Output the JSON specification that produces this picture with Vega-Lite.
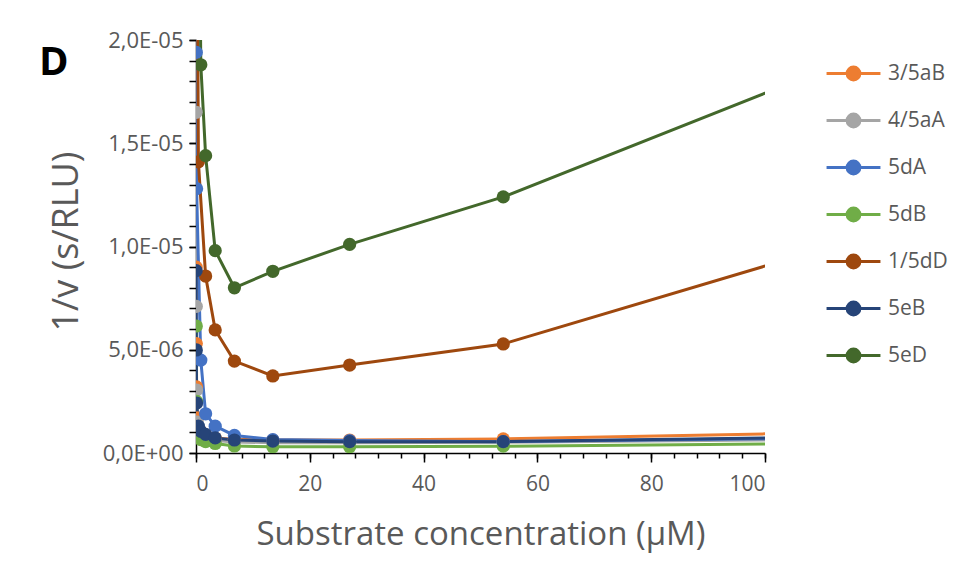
{
  "$schema": "https://vega.github.io/schema/vega-lite/v6.json",
  "width": 569,
  "height": 413,
  "autosize": {"type": "none"},
  "padding": {"left": 196, "top": 40, "right": 196, "bottom": 130},
  "background": "white",
  "config": {"view": {"stroke": null}, "font": "Open Sans"},
  "title": {"text": "D", "fontSize": 40, "fontWeight": "bold", "font": "Open Sans", "color": "#000000", "anchor": "start", "frame": "group", "dx": -157, "dy": 86, "offset": 0, "baseline": "alphabetic"},
  "data": {"values": [
    {"s": "3/5aB", "x": 0.0264, "y": 9.0e-6},
    {"s": "3/5aB", "x": 0.0527, "y": 5.3e-6},
    {"s": "3/5aB", "x": 0.105, "y": 3.2e-6},
    {"s": "3/5aB", "x": 0.211, "y": 1.7e-6},
    {"s": "3/5aB", "x": 0.844, "y": 1.05e-6},
    {"s": "3/5aB", "x": 1.69, "y": 8.8e-7},
    {"s": "3/5aB", "x": 3.375, "y": 7.2e-7},
    {"s": "3/5aB", "x": 6.75, "y": 6.6e-7},
    {"s": "3/5aB", "x": 13.5, "y": 6.3e-7},
    {"s": "3/5aB", "x": 27, "y": 6.3e-7},
    {"s": "3/5aB", "x": 54, "y": 6.8e-7},
    {"s": "3/5aB", "x": 108, "y": 9.7e-7},
    {"s": "4/5aA", "x": 0.0264, "y": 1.65e-5},
    {"s": "4/5aA", "x": 0.0527, "y": 7.1e-6},
    {"s": "4/5aA", "x": 0.105, "y": 3.05e-6},
    {"s": "4/5aA", "x": 0.211, "y": 1.5e-6},
    {"s": "4/5aA", "x": 0.844, "y": 9.0e-7},
    {"s": "4/5aA", "x": 1.69, "y": 7.5e-7},
    {"s": "4/5aA", "x": 3.375, "y": 6.0e-7},
    {"s": "4/5aA", "x": 6.75, "y": 5.3e-7},
    {"s": "4/5aA", "x": 13.5, "y": 5.0e-7},
    {"s": "4/5aA", "x": 27, "y": 5.0e-7},
    {"s": "4/5aA", "x": 54, "y": 5.2e-7},
    {"s": "4/5aA", "x": 108, "y": 6.5e-7},
    {"s": "5dA", "x": 0.0264, "y": 2.6e-5},
    {"s": "5dA", "x": 0.0527, "y": 1.94e-5},
    {"s": "5dA", "x": 0.105, "y": 1.28e-5},
    {"s": "5dA", "x": 0.844, "y": 4.5e-6},
    {"s": "5dA", "x": 1.69, "y": 1.9e-6},
    {"s": "5dA", "x": 3.375, "y": 1.3e-6},
    {"s": "5dA", "x": 6.75, "y": 8.5e-7},
    {"s": "5dA", "x": 13.5, "y": 6.5e-7},
    {"s": "5dA", "x": 27, "y": 6.0e-7},
    {"s": "5dA", "x": 54, "y": 5.5e-7},
    {"s": "5dA", "x": 108, "y": 7.1e-7},
    {"s": "5dB", "x": 0.0527, "y": 6.15e-6},
    {"s": "5dB", "x": 0.105, "y": 2.5e-6},
    {"s": "5dB", "x": 0.211, "y": 1.2e-6},
    {"s": "5dB", "x": 0.844, "y": 6.5e-7},
    {"s": "5dB", "x": 1.69, "y": 5.5e-7},
    {"s": "5dB", "x": 3.375, "y": 4.6e-7},
    {"s": "5dB", "x": 6.75, "y": 3.4e-7},
    {"s": "5dB", "x": 13.5, "y": 3.0e-7},
    {"s": "5dB", "x": 27, "y": 3.0e-7},
    {"s": "5dB", "x": 54, "y": 3.3e-7},
    {"s": "5dB", "x": 108, "y": 4.6e-7},
    {"s": "1/5dD", "x": 0.211, "y": 2.6e-5},
    {"s": "1/5dD", "x": 0.422, "y": 1.41e-5},
    {"s": "1/5dD", "x": 1.69, "y": 8.57e-6},
    {"s": "1/5dD", "x": 3.375, "y": 5.96e-6},
    {"s": "1/5dD", "x": 6.75, "y": 4.45e-6},
    {"s": "1/5dD", "x": 13.5, "y": 3.73e-6},
    {"s": "1/5dD", "x": 27, "y": 4.26e-6},
    {"s": "1/5dD", "x": 54, "y": 5.28e-6},
    {"s": "1/5dD", "x": 108, "y": 9.71e-6},
    {"s": "5eB", "x": 0.0264, "y": 8.83e-6},
    {"s": "5eB", "x": 0.0527, "y": 4.99e-6},
    {"s": "5eB", "x": 0.105, "y": 2.42e-6},
    {"s": "5eB", "x": 0.422, "y": 1.3e-6},
    {"s": "5eB", "x": 0.844, "y": 1.05e-6},
    {"s": "5eB", "x": 1.69, "y": 9.0e-7},
    {"s": "5eB", "x": 3.375, "y": 7.3e-7},
    {"s": "5eB", "x": 6.75, "y": 6.3e-7},
    {"s": "5eB", "x": 13.5, "y": 5.8e-7},
    {"s": "5eB", "x": 27, "y": 5.5e-7},
    {"s": "5eB", "x": 54, "y": 5.5e-7},
    {"s": "5eB", "x": 108, "y": 7.6e-7},
    {"s": "5eD", "x": 0.422, "y": 3.2e-5},
    {"s": "5eD", "x": 0.844, "y": 1.88e-5},
    {"s": "5eD", "x": 1.69, "y": 1.44e-5},
    {"s": "5eD", "x": 3.375, "y": 9.8e-6},
    {"s": "5eD", "x": 6.75, "y": 8.0e-6},
    {"s": "5eD", "x": 13.5, "y": 8.8e-6},
    {"s": "5eD", "x": 27, "y": 1.01e-5},
    {"s": "5eD", "x": 54, "y": 1.24e-5},
    {"s": "5eD", "x": 108, "y": 1.83e-5}
  ]},
  "resolve": {"axis": {"x": "independent", "y": "independent"}},
  "layer": [
    {
      "mark": {"type": "line", "opacity": 0, "clip": true},
      "encoding": {
        "x": {"field": "x", "type": "quantitative", "scale": {"domain": [0, 100], "nice": false, "zero": false},
          "axis": {"orient": "bottom", "values": [0,4,8,12,16,20,24,28,32,36,40,44,48,52,56,60,64,68,72,76,80,84,88,92,96,100], "labels": false, "title": null, "domain": false, "grid": false, "tickSize": 5, "tickColor": "#000000", "tickWidth": 1.5}},
        "y": {"field": "y", "type": "quantitative", "scale": {"domain": [0, 2e-5], "nice": false, "zero": false},
          "axis": {"orient": "left", "values": [0,1e-6,2e-6,3e-6,4e-6,5e-6,6e-6,7e-6,8e-6,9e-6,1e-5,1.1e-5,1.2e-5,1.3e-5,1.4e-5,1.5e-5,1.6e-5,1.7e-5,1.8e-5,1.9e-5,2e-5], "labels": false, "title": null, "domain": false, "grid": false, "tickSize": 7, "tickColor": "#000000", "tickWidth": 1.5}},
        "detail": {"field": "s"}
      }
    },
    {
      "mark": {"type": "line", "strokeWidth": 3, "clip": true},
      "encoding": {
        "x": {"field": "x", "type": "quantitative", "scale": {"domain": [0, 100], "nice": false, "zero": false},
          "axis": {"orient": "bottom", "values": [0, 20, 40, 60, 80, 100], "grid": false, "domainColor": "#000000", "domainWidth": 1.5, "tickColor": "#000000", "tickWidth": 1.5, "tickSize": 9, "labelFontSize": 21, "labelColor": "#595959", "labelPadding": 11, "title": "Substrate concentration (μM)", "titleFontSize": 33, "titleFontWeight": "normal", "titleColor": "#595959", "titlePadding": 24}},
        "y": {"field": "y", "type": "quantitative", "scale": {"domain": [0, 2e-5], "nice": false, "zero": false},
          "axis": {"orient": "left", "values": [0, 5e-6, 1e-5, 1.5e-5, 2e-5], "grid": false, "domainColor": "#000000", "domainWidth": 1.5, "tickColor": "#000000", "tickWidth": 1.5, "tickSize": 7, "labelFontSize": 22, "labelColor": "#595959", "labelPadding": 6,
            "labelExpr": "datum.value == 0 ? '0,0E+00' : replace(format(datum.value / pow(10, floor(log(datum.value) / LN10 + 1e-9)), '.1f'), '.', ',') + 'E-' + format(-floor(log(datum.value) / LN10 + 1e-9), '02d')",
            "title": "1/v   (s/RLU)", "titleFontSize": 36, "titleFontWeight": "normal", "titleColor": "#595959", "titlePadding": 17, "titleY": 201}},
        "color": {"field": "s", "type": "nominal",
          "scale": {"domain": ["3/5aB", "4/5aA", "5dA", "5dB", "1/5dD", "5eB", "5eD"], "range": ["#ED7D31", "#A5A5A5", "#4472C4", "#70AD47", "#9E480E", "#264478", "#43682B"]},
          "legend": {"orient": "none", "legendX": 645, "legendY": 21, "title": null, "symbolType": "M-2.45,0L2.45,0M0.58,0A0.58,0.58,0,1,1,-0.58,0A0.58,0.58,0,1,1,0.58,0Z", "symbolSize": 484, "symbolStrokeWidth": 3, "labelFontSize": 21, "labelColor": "#595959", "labelOffset": 22, "rowPadding": 22,
            "encode": {"symbols": {"update": {"fill": {"scale": "color", "field": "value"}, "stroke": {"scale": "color", "field": "value"}, "fillOpacity": {"value": 1}}}}}
        }
      }
    },
    {
      "mark": {"type": "point", "filled": true, "size": 175, "opacity": 1, "clip": true},
      "encoding": {
        "x": {"field": "x", "type": "quantitative", "axis": null},
        "y": {"field": "y", "type": "quantitative", "axis": null},
        "color": {"field": "s", "type": "nominal"}
      }
    }
  ]
}
